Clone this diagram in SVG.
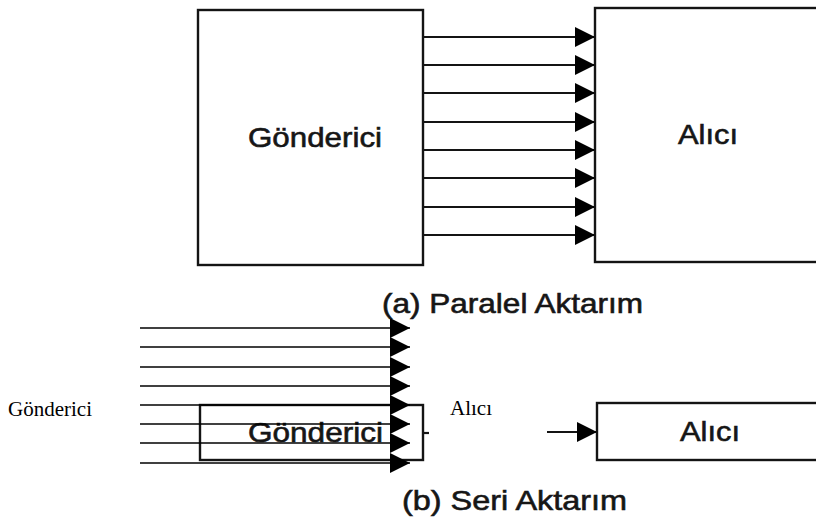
<svg xmlns="http://www.w3.org/2000/svg" width="816" height="523" viewBox="0 0 816 523">
  <style>
    .scan { fill: #ffffff; stroke: #141414; stroke-width: 2.4; }
    .sans { font-family: "Liberation Sans", Arial, sans-serif; fill: #161616; stroke: #161616; stroke-width: 0.6; font-size: 28px; }
    .serif { font-family: "Liberation Serif", "Times New Roman", serif; fill: #000000; font-size: 21px; }
    .wire-a { stroke: #141414; stroke-width: 2.2; fill: none; }
    .wire-b { stroke: #000000; stroke-width: 1.6; fill: none; }
  </style>
  <defs>
    <marker id="head" viewBox="0 0 20 20" refX="20" refY="10" markerWidth="20" markerHeight="20" markerUnits="userSpaceOnUse" orient="auto">
      <path d="M0,0 L20,10 L0,20 Z" fill="#000000"/>
    </marker>
  </defs>
  <rect width="816" height="523" fill="#ffffff"/>

  <g id="gonderici-paralel">
    <rect class="scan" x="198" y="10" width="225" height="255"/>
    <text class="sans" x="248" y="147" textLength="134" lengthAdjust="spacingAndGlyphs">Gönderici</text>
  </g>
  <g id="alici-paralel">
    <rect class="scan" x="595" y="8" width="240" height="254"/>
    <text class="sans" x="678" y="144" textLength="60" lengthAdjust="spacingAndGlyphs">Alıcı</text>
  </g>

  <g id="gonderici-seri">
    <rect class="scan" x="200" y="405" width="223" height="55"/>
    <path class="wire-a" d="M423,433 L429,433"/>
    <text class="sans" x="248" y="442" textLength="135" lengthAdjust="spacingAndGlyphs">Gönderici</text>
  </g>
  <g id="alici-seri">
    <rect class="scan" x="597" y="403" width="240" height="57"/>
    <text class="sans" x="680" y="441" textLength="60" lengthAdjust="spacingAndGlyphs">Alıcı</text>
  </g>

  <g id="label-gonderici">
    <text class="serif" x="8" y="416">Gönderici</text>
  </g>
  <g id="label-alici">
    <text class="serif" x="450" y="415">Alıcı</text>
  </g>

  <g id="connectors">
    <g id="paralel-lines">
      <line class="wire-a" x1="423" y1="37" x2="595" y2="37" marker-end="url(#head)"/>
      <line class="wire-a" x1="423" y1="65" x2="595" y2="65" marker-end="url(#head)"/>
      <line class="wire-a" x1="423" y1="93" x2="595" y2="93" marker-end="url(#head)"/>
      <line class="wire-a" x1="423" y1="122" x2="595" y2="122" marker-end="url(#head)"/>
      <line class="wire-a" x1="423" y1="150" x2="595" y2="150" marker-end="url(#head)"/>
      <line class="wire-a" x1="423" y1="178" x2="595" y2="178" marker-end="url(#head)"/>
      <line class="wire-a" x1="423" y1="207" x2="595" y2="207" marker-end="url(#head)"/>
      <line class="wire-a" x1="423" y1="235" x2="595" y2="235" marker-end="url(#head)"/>
    </g>
    <g id="seri-lines">
      <line class="wire-b" x1="140" y1="328" x2="410" y2="328" marker-end="url(#head)"/>
      <line class="wire-b" x1="140" y1="347" x2="410" y2="347" marker-end="url(#head)"/>
      <line class="wire-b" x1="140" y1="367" x2="410" y2="367" marker-end="url(#head)"/>
      <line class="wire-b" x1="140" y1="386" x2="410" y2="386" marker-end="url(#head)"/>
      <line class="wire-b" x1="140" y1="405" x2="410" y2="405" marker-end="url(#head)"/>
      <line class="wire-b" x1="140" y1="424" x2="410" y2="424" marker-end="url(#head)"/>
      <line class="wire-b" x1="140" y1="443" x2="410" y2="443" marker-end="url(#head)"/>
      <line class="wire-b" x1="140" y1="463" x2="410" y2="463" marker-end="url(#head)"/>
    </g>
    <line class="wire-a" x1="547" y1="432" x2="597" y2="432" marker-end="url(#head)"/>
  </g>

  <g id="captions">
    <text class="sans" x="382" y="313" textLength="261" lengthAdjust="spacingAndGlyphs">(a) Paralel Aktarım</text>
    <text class="sans" x="402" y="510" textLength="225" lengthAdjust="spacingAndGlyphs">(b) Seri Aktarım</text>
  </g>
</svg>
